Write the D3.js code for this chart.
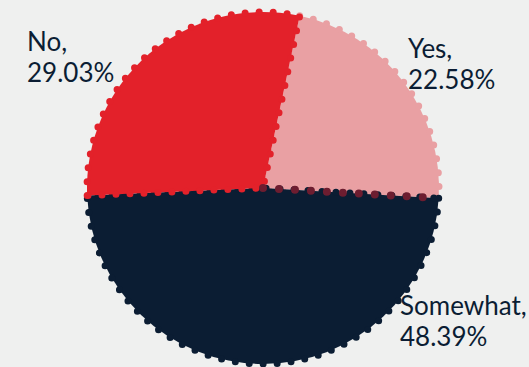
<!DOCTYPE html>
<html>
<head>
<meta charset="utf-8">
<script src="https://cdn.jsdelivr.net/npm/d3@7/dist/d3.min.js"></script>
<style>
  html, body { margin: 0; padding: 0; background: #eff0ef; }
  svg { display: block; }
  text { font-family: Lato, "Noto Sans", sans-serif; }
</style>
</head>
<body>
<svg id="chart" width="529" height="367"></svg>
<script>
// Survey answers and their shares (percent)
const categories = ["Yes", "Somewhat", "No"];
const shares = [22.58, 48.39, 29.03];
const colors = ["#e9a0a3", "#0b1d33", "#e3212a"];

const width = 529, height = 367;
const cx = 263, cy = 188, radius = 176;
const startAngle = 0.21;

const svg = d3.select("#chart");
const g = svg.append("g").attr("transform", `translate(${cx},${cy})`);

const pie = d3.pie().sort(null)
  .startAngle(startAngle)
  .endAngle(startAngle + 2 * Math.PI)
  .value(d => d.value);

const data = categories.map((c, i) => ({ name: c, value: shares[i], color: colors[i] }));
const arcs = pie(data);
const arc = d3.arc().innerRadius(0).outerRadius(radius);

// slices with a beaded edge in their own colour
g.selectAll("path.slice")
  .data(arcs)
  .join("path")
  .attr("class", "slice")
  .attr("d", arc)
  .attr("fill", d => d.data.color)
  .attr("stroke", d => d.data.color)
  .attr("stroke-width", 7)
  .attr("stroke-linecap", "round")
  .attr("stroke-dasharray", "0 14");

// darker bead line where "Yes" meets "Somewhat"
const yesArc = arcs[0];
const a = yesArc.endAngle;
g.append("line")
  .attr("x1", 0).attr("y1", 0)
  .attr("x2", Math.sin(a) * radius)
  .attr("y2", -Math.cos(a) * radius)
  .attr("stroke", "#6d1d30")
  .attr("stroke-width", 8)
  .attr("stroke-linecap", "round")
  .attr("stroke-dasharray", "0 16");

// labels
const labels = [
  { name: "No", value: shares[2], x: 27, y: 51 },
  { name: "Yes", value: shares[0], x: 408, y: 58 },
  { name: "Somewhat", value: shares[1], x: 400, y: 315 }
];
const lt = svg.selectAll("text.label")
  .data(labels)
  .join("text")
  .attr("class", "label")
  .attr("x", d => d.x)
  .attr("y", d => d.y)
  .attr("fill", "#0b1d33")
  .attr("font-size", 26);
lt.append("tspan").attr("x", d => d.x).text(d => d.name + ",");
lt.append("tspan").attr("x", d => d.x).attr("dy", 31).text(d => d3.format(".2f")(d.value) + "%");
</script>
</body>
</html>
